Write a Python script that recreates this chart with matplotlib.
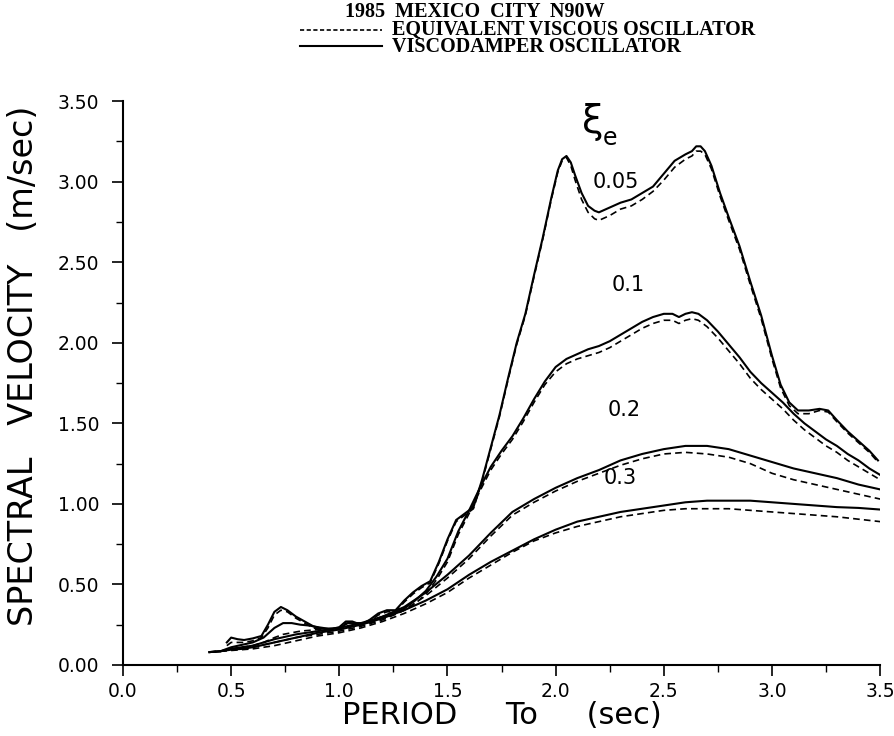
import matplotlib
matplotlib.use("Agg")
import matplotlib.pyplot as plt
from matplotlib.lines import Line2D
from matplotlib.ticker import MultipleLocator, FormatStrFormatter

# Period values (sec) and spectral velocity (m/sec)
# damping 0.05
t_005 = [0.48, 0.50, 0.53, 0.56, 0.60, 0.64, 0.67, 0.70, 0.73, 0.76, 0.80, 0.84, 0.88,
         0.92, 0.97, 1.00, 1.03, 1.06, 1.10, 1.14, 1.18, 1.22, 1.26, 1.30, 1.34, 1.38,
         1.42, 1.46, 1.50, 1.54, 1.58, 1.62, 1.66, 1.70, 1.74, 1.78, 1.82, 1.86, 1.90,
         1.94, 1.98, 2.01, 2.03, 2.05, 2.07, 2.09, 2.12, 2.15, 2.18, 2.20, 2.25, 2.30,
         2.35, 2.40, 2.45, 2.50, 2.55, 2.60, 2.63, 2.65, 2.67, 2.69, 2.72, 2.76, 2.80,
         2.85, 2.90, 2.95, 3.00, 3.04, 3.08, 3.12, 3.17, 3.22, 3.26, 3.30, 3.35, 3.40,
         3.45, 3.49]
visco_005 = [0.14, 0.17, 0.16, 0.155, 0.165, 0.18, 0.25, 0.33, 0.36, 0.34, 0.30, 0.27, 0.24,
             0.225, 0.225, 0.235, 0.27, 0.27, 0.25, 0.28, 0.32, 0.34, 0.34, 0.40, 0.45, 0.49,
             0.52, 0.64, 0.78, 0.90, 0.94, 0.98, 1.15, 1.35, 1.55, 1.78, 2.00, 2.18, 2.42,
             2.65, 2.90, 3.07, 3.14, 3.16, 3.12, 3.04, 2.93, 2.85, 2.82, 2.81, 2.84, 2.87,
             2.89, 2.93, 2.97, 3.05, 3.13, 3.17, 3.19, 3.22, 3.22, 3.19, 3.10, 2.93, 2.78,
             2.60, 2.38, 2.17, 1.92, 1.74, 1.63, 1.58, 1.58, 1.59, 1.58, 1.52, 1.45, 1.39,
             1.33, 1.27]
equiv_005 = [0.12, 0.14, 0.14, 0.14, 0.15, 0.17, 0.23, 0.31, 0.34, 0.33, 0.29, 0.26, 0.23,
             0.22, 0.22, 0.23, 0.26, 0.26, 0.245, 0.27, 0.31, 0.33, 0.33, 0.39, 0.44, 0.48,
             0.51, 0.63, 0.77, 0.89, 0.93, 0.97, 1.14, 1.34, 1.54, 1.77, 1.99, 2.17, 2.41,
             2.64, 2.89, 3.06, 3.13, 3.15, 3.10, 3.01, 2.89, 2.81, 2.77, 2.76, 2.79, 2.83,
             2.85, 2.89, 2.94, 3.01, 3.09, 3.14, 3.16, 3.19, 3.19, 3.17, 3.08, 2.91, 2.76,
             2.58, 2.36, 2.15, 1.90, 1.72, 1.61, 1.56, 1.56, 1.58, 1.57, 1.51, 1.44, 1.38,
             1.32, 1.26]

# damping 0.1
t_01 = [0.40, 0.45, 0.50, 0.55, 0.60, 0.65, 0.70, 0.74, 0.78, 0.82, 0.86, 0.90, 0.95,
        1.00, 1.04, 1.08, 1.12, 1.16, 1.20, 1.25, 1.30, 1.35, 1.40, 1.45, 1.50, 1.55,
        1.60, 1.65, 1.70, 1.75, 1.80, 1.85, 1.90, 1.95, 2.00, 2.05, 2.10, 2.15, 2.20,
        2.25, 2.30, 2.35, 2.40, 2.45, 2.50, 2.54, 2.57, 2.60, 2.63, 2.66, 2.70, 2.75,
        2.80, 2.85, 2.90, 2.95, 3.00, 3.05, 3.10, 3.15, 3.20, 3.25, 3.30, 3.35, 3.40,
        3.45, 3.50]
visco_01 = [0.08, 0.085, 0.11, 0.125, 0.14, 0.17, 0.23, 0.26, 0.26, 0.25, 0.245, 0.235, 0.225,
            0.23, 0.26, 0.26, 0.26, 0.28, 0.30, 0.32, 0.35, 0.40, 0.46, 0.55, 0.66, 0.83,
            0.96, 1.10, 1.23, 1.33, 1.42, 1.53, 1.65, 1.76, 1.85, 1.90, 1.93, 1.96, 1.98,
            2.01, 2.05, 2.09, 2.13, 2.16, 2.18, 2.18, 2.16, 2.18, 2.19, 2.18, 2.14, 2.07,
            1.99, 1.91, 1.82, 1.75, 1.69, 1.63, 1.56, 1.50, 1.45, 1.40, 1.36, 1.31, 1.27,
            1.22, 1.18]
equiv_01 = [0.08, 0.085, 0.10, 0.11, 0.12, 0.14, 0.17, 0.19, 0.20, 0.21, 0.215, 0.22, 0.22,
            0.225, 0.24, 0.25, 0.255, 0.27, 0.29, 0.31, 0.34, 0.38, 0.44, 0.53, 0.64, 0.81,
            0.94, 1.08, 1.21, 1.31, 1.40, 1.51, 1.63, 1.74, 1.82, 1.87, 1.90, 1.92, 1.94,
            1.97, 2.01, 2.05, 2.09, 2.12, 2.14, 2.14, 2.12, 2.14, 2.15, 2.14, 2.10, 2.03,
            1.95, 1.87, 1.78, 1.71, 1.65, 1.59, 1.52, 1.46, 1.41, 1.36, 1.32, 1.27, 1.23,
            1.19, 1.15]

# damping 0.2 and 0.3
t_023 = [0.40, 0.45, 0.50, 0.55, 0.60, 0.70, 0.80, 0.90, 1.00, 1.10, 1.20, 1.30, 1.40,
         1.50, 1.60, 1.70, 1.80, 1.90, 2.00, 2.10, 2.20, 2.30, 2.40, 2.50, 2.60, 2.70,
         2.80, 2.90, 3.00, 3.10, 3.20, 3.30, 3.40, 3.50]
visco_02 = [0.08, 0.085, 0.10, 0.11, 0.12, 0.16, 0.19, 0.21, 0.23, 0.26, 0.30, 0.36, 0.45,
            0.56, 0.68, 0.82, 0.95, 1.03, 1.10, 1.16, 1.21, 1.27, 1.31, 1.34, 1.36, 1.36,
            1.34, 1.30, 1.26, 1.22, 1.19, 1.16, 1.12, 1.09]
equiv_02 = [0.08, 0.085, 0.095, 0.10, 0.11, 0.14, 0.17, 0.19, 0.21, 0.24, 0.28, 0.34, 0.43,
            0.54, 0.66, 0.80, 0.93, 1.01, 1.08, 1.14, 1.19, 1.24, 1.28, 1.31, 1.32, 1.31,
            1.29, 1.25, 1.19, 1.15, 1.12, 1.09, 1.06, 1.03]
visco_03 = [0.08, 0.085, 0.095, 0.10, 0.11, 0.14, 0.17, 0.20, 0.22, 0.25, 0.29, 0.34, 0.40,
            0.47, 0.56, 0.64, 0.71, 0.78, 0.84, 0.89, 0.92, 0.95, 0.97, 0.99, 1.01, 1.02,
            1.02, 1.02, 1.01, 1.00, 0.99, 0.98, 0.975, 0.965]
equiv_03 = [0.08, 0.085, 0.09, 0.095, 0.10, 0.12, 0.15, 0.18, 0.20, 0.23, 0.27, 0.32, 0.38,
            0.45, 0.54, 0.62, 0.70, 0.77, 0.82, 0.86, 0.89, 0.92, 0.94, 0.96, 0.97, 0.97,
            0.97, 0.96, 0.95, 0.94, 0.93, 0.92, 0.905, 0.89]

damping_labels = ["0.05", "0.1", "0.2", "0.3"]

fig = plt.figure(figsize=(8.95, 7.36), dpi=100)
ax = fig.add_axes([0.1374, 0.0965, 0.846, 0.766])

dash = (0, (4, 2.5))
for t, v in [(t_005, visco_005), (t_01, visco_01), (t_023, visco_02), (t_023, visco_03)]:
    ax.plot(t, v, color="black", lw=1.5)
for t, v in [(t_005, equiv_005), (t_01, equiv_01), (t_023, equiv_02), (t_023, equiv_03)]:
    ax.plot(t, v, color="black", lw=1.2, linestyle=dash)

# curve labels
lab_font = dict(fontsize=15, color="black", ha="left", va="center")
ax.text(2.17, 3.00, damping_labels[0], **lab_font)
ax.text(2.26, 2.36, damping_labels[1], **lab_font)
ax.text(2.24, 1.58, damping_labels[2], **lab_font)
ax.text(2.22, 1.16, damping_labels[3], **lab_font)
ax.text(2.12, 3.37, "ξ", fontsize=28, ha="left", va="center")
ax.text(2.22, 3.27, "e", fontsize=17, ha="left", va="center")

ax.set_xlim(0, 3.5)
ax.set_ylim(0, 3.5)
ax.xaxis.set_major_locator(MultipleLocator(0.5))
ax.xaxis.set_minor_locator(MultipleLocator(0.25))
ax.yaxis.set_major_locator(MultipleLocator(0.5))
ax.yaxis.set_minor_locator(MultipleLocator(0.25))
ax.xaxis.set_major_formatter(FormatStrFormatter("%.1f"))
ax.yaxis.set_major_formatter(FormatStrFormatter("%.2f"))
ax.tick_params(which="major", direction="out", length=8, width=1.2, labelsize=13.5, pad=4)
ax.tick_params(axis="y", which="major", pad=9)
ax.tick_params(which="minor", direction="out", length=5, width=1.0)

for s in ["top", "right"]:
    ax.spines[s].set_visible(False)
for s in ["left", "bottom"]:
    ax.spines[s].set_linewidth(1.5)

ax.set_xlabel("PERIOD     To     (sec)", fontsize=22, labelpad=0)
ax.set_ylabel("SPECTRAL   VELOCITY   (m/sec)", fontsize=24)
ax.yaxis.set_label_coords(-0.11, 0.53)

# header block with legend lines
serif = dict(family="Liberation Serif", weight="bold", fontsize=14.5, ha="left")
fig.text(345 / 895, 1 - 12 / 736, "1985  MEXICO  CITY  N90W", va="center", **serif)
fig.text(392 / 895, 1 - 38 / 736, "EQUIVALENT VISCOUS OSCILLATOR\nVISCODAMPER OSCILLATOR",
         va="center", linespacing=0.8, **serif)
fig.add_artist(Line2D([300 / 895, 382 / 895], [1 - 30 / 736, 1 - 30 / 736],
                      color="black", lw=1.2, linestyle=(0, (2.5, 1.5))))
fig.add_artist(Line2D([300 / 895, 382 / 895], [1 - 46 / 736, 1 - 46 / 736],
                      color="black", lw=1.5))

fig.savefig("out.png", dpi=100)
